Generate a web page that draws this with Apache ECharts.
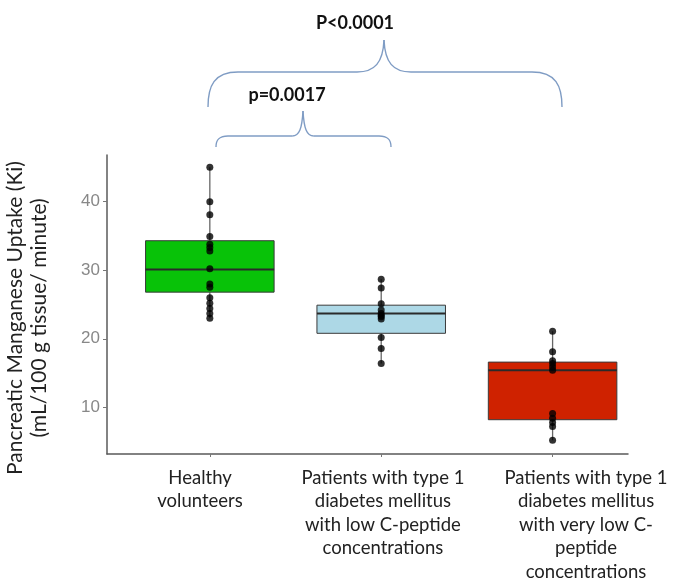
<!DOCTYPE html>
<html><head><meta charset="utf-8">
<script src="https://cdn.jsdelivr.net/npm/echarts@6/dist/echarts.min.js"></script>
<style>html,body{margin:0;padding:0;background:#fff}#c{width:677px;height:581px}</style>
</head><body><div id="c"></div>
<script>
// ---- data ----
const categories = [
  'Healthy\nvolunteers',
  'Patients with type 1\ndiabetes mellitus\nwith low C-peptide\nconcentrations',
  'Patients with type 1\ndiabetes mellitus\nwith very low C-\npeptide\nconcentrations'
];
const categoryPositions = [1, 2, 3];
const boxMin = [23.0, 16.4, 5.2];
const boxQ1 = [26.8, 20.8, 8.2];
const boxMedian = [30.1, 23.7, 15.4];
const boxQ3 = [34.3, 24.9, 16.6];
const boxMax = [45.0, 28.7, 21.1];
const healthyPoints = [45.0, 40.0, 38.1, 34.9, 33.8, 33.3, 32.8, 30.2, 28.0, 27.5, 26.0, 25.2, 24.4, 23.7, 23.0];
const lowCPeptidePoints = [28.7, 27.4, 25.1, 24.2, 23.7, 23.4, 23.2, 22.9, 20.2, 18.6, 16.4];
const veryLowCPeptidePoints = [21.1, 18.1, 16.8, 16.4, 15.9, 15.4, 9.1, 8.4, 7.8, 7.2, 5.2];
const yTicks = [10, 20, 30, 40];
const yTitle = ['Pancreatic Manganese Uptake (Ki)', '(mL/100 g tissue/ minute)'];
const pValueLabels = ['p=0.0017', 'P<0.0001'];

// ---- style ----
const boxColors = ['#08c208', '#add8e6', '#cf2200'];
const BOX_WIDTH = 0.75;
const labelOffsets = [-0.057, 0.01, 0.195]; // labels in the original sit slightly off their ticks
const labelFont = 'Lato, "Noto Sans", sans-serif';
const braceStyle = { stroke: '#7f9cc4', lineWidth: 1.4, fill: null };

const boxData = categoryPositions.map((x, i) => [x, boxMin[i], boxQ1[i], boxMedian[i], boxQ3[i], boxMax[i]]);
const pointSets = [healthyPoints, lowCPeptidePoints, veryLowCPeptidePoints];
const pointData = [];
pointSets.forEach((arr, i) => arr.forEach(v => pointData.push([categoryPositions[i], v])));
const labelPositions = categoryPositions.map((x, i) => x + labelOffsets[i]);

// curly brace built from bezier curves + lines
function brace(xl, xr, xt, yEnd, yBar, yTip, r) {
  const s = braceStyle;
  return [
    { type: 'bezierCurve', shape: { x1: xl, y1: yEnd, cpx1: xl, cpy1: yBar + (yEnd - yBar) * 0.4, cpx2: xl + r * 0.2, cpy2: yBar, x2: xl + r, y2: yBar }, style: s },
    { type: 'line', shape: { x1: xl + r, y1: yBar, x2: xt - r * 0.9, y2: yBar }, style: s },
    { type: 'bezierCurve', shape: { x1: xt - r * 0.9, y1: yBar, cpx1: xt - r * 0.3, cpy1: yBar, cpx2: xt - 1, cpy2: yBar - (yBar - yTip) * 0.3, x2: xt, y2: yTip }, style: s },
    { type: 'bezierCurve', shape: { x1: xt, y1: yTip, cpx1: xt + 1, cpy1: yBar - (yBar - yTip) * 0.3, cpx2: xt + r * 0.3, cpy2: yBar, x2: xt + r * 0.9, y2: yBar }, style: s },
    { type: 'line', shape: { x1: xt + r * 0.9, y1: yBar, x2: xr - r, y2: yBar }, style: s },
    { type: 'bezierCurve', shape: { x1: xr - r, y1: yBar, cpx1: xr - r * 0.2, cpy1: yBar, cpx2: xr, cpy2: yBar + (yEnd - yBar) * 0.4, x2: xr, y2: yEnd }, style: s }
  ];
}

const chart = echarts.init(document.getElementById('c'), null, { renderer: 'canvas' });
chart.setOption({
  animation: false,
  backgroundColor: '#fff',
  grid: { left: 107, right: 49, top: 155, bottom: 127, containLabel: false, outerBoundsMode: 'none' },
  xAxis: {
    type: 'value', min: 0.4, max: 3.44,
    splitLine: { show: false },
    axisLine: { show: true, lineStyle: { color: '#5a5a5a', width: 1.5 } },
    axisTick: { show: true, customValues: categoryPositions, length: 3, lineStyle: { color: '#777' } },
    axisLabel: {
      customValues: labelPositions, margin: 12, hideOverlap: false,
      showMinLabel: true, showMaxLabel: true,
      fontSize: 18.5, fontFamily: labelFont, color: '#222', lineHeight: 23.5,
      formatter: (v) => {
        let best = 0;
        labelPositions.forEach((p, i) => { if (Math.abs(p - v) < Math.abs(labelPositions[best] - v)) best = i; });
        return categories[best];
      }
    }
  },
  yAxis: {
    type: 'value', min: 3.2, max: 46.8,
    splitLine: { show: false },
    axisLine: { show: true, lineStyle: { color: '#5a5a5a', width: 1.5 } },
    axisTick: { show: true, customValues: yTicks, length: 4, lineStyle: { color: '#777' } },
    axisLabel: { customValues: yTicks, margin: 7, color: '#888', fontSize: 17, fontFamily: 'Liberation Sans, Arial, sans-serif' }
  },
  series: [
    {
      type: 'custom',
      data: boxData,
      encode: { x: 0, y: [1, 2, 3, 4, 5] },
      renderItem: (params, api) => {
        const x = api.value(0);
        const lo = api.coord([x, api.value(1)]);
        const q1 = api.coord([x, api.value(2)]);
        const med = api.coord([x, api.value(3)]);
        const q3 = api.coord([x, api.value(4)]);
        const hi = api.coord([x, api.value(5)]);
        const halfW = api.size([BOX_WIDTH, 0])[0] / 2;
        const c = boxColors[params.dataIndex];
        return {
          type: 'group',
          children: [
            { type: 'line', shape: { x1: lo[0], y1: lo[1], x2: q1[0], y2: q1[1] }, style: { stroke: '#666', lineWidth: 1.3 } },
            { type: 'line', shape: { x1: hi[0], y1: hi[1], x2: q3[0], y2: q3[1] }, style: { stroke: '#666', lineWidth: 1.3 } },
            { type: 'rect', shape: { x: q1[0] - halfW, y: q3[1], width: halfW * 2, height: q1[1] - q3[1] }, style: { fill: c, stroke: '#3a3a3a', lineWidth: 1 } },
            { type: 'line', shape: { x1: med[0] - halfW, y1: med[1], x2: med[0] + halfW, y2: med[1] }, style: { stroke: '#2a2a2a', lineWidth: 2 } }
          ]
        };
      },
      z: 2
    },
    {
      type: 'scatter',
      data: pointData,
      symbol: 'circle',
      symbolSize: 7,
      itemStyle: { color: '#000' },
      z: 3
    }
  ],
  graphic: [
    {
      type: 'text', x: 27, y: 318, rotation: Math.PI / 2,
      style: { text: yTitle.join('\n'), align: 'center', verticalAlign: 'middle', fontSize: 21, lineHeight: 24, fontFamily: labelFont, fill: '#222' }
    },
    { type: 'group', children: brace(208, 562, 384, 107, 72, 40, 30) },
    { type: 'group', children: brace(216, 391, 303, 147, 136, 111, 12) },
    {
      type: 'text', x: 287, y: 95,
      style: { text: pValueLabels[0], align: 'center', verticalAlign: 'middle', fontSize: 18, fontWeight: 'bold', fontFamily: labelFont, fill: '#111' }
    },
    {
      type: 'text', x: 355, y: 23,
      style: { text: pValueLabels[1], align: 'center', verticalAlign: 'middle', fontSize: 18, fontWeight: 'bold', fontFamily: labelFont, fill: '#111' }
    }
  ]
});
</script>
</body></html>
